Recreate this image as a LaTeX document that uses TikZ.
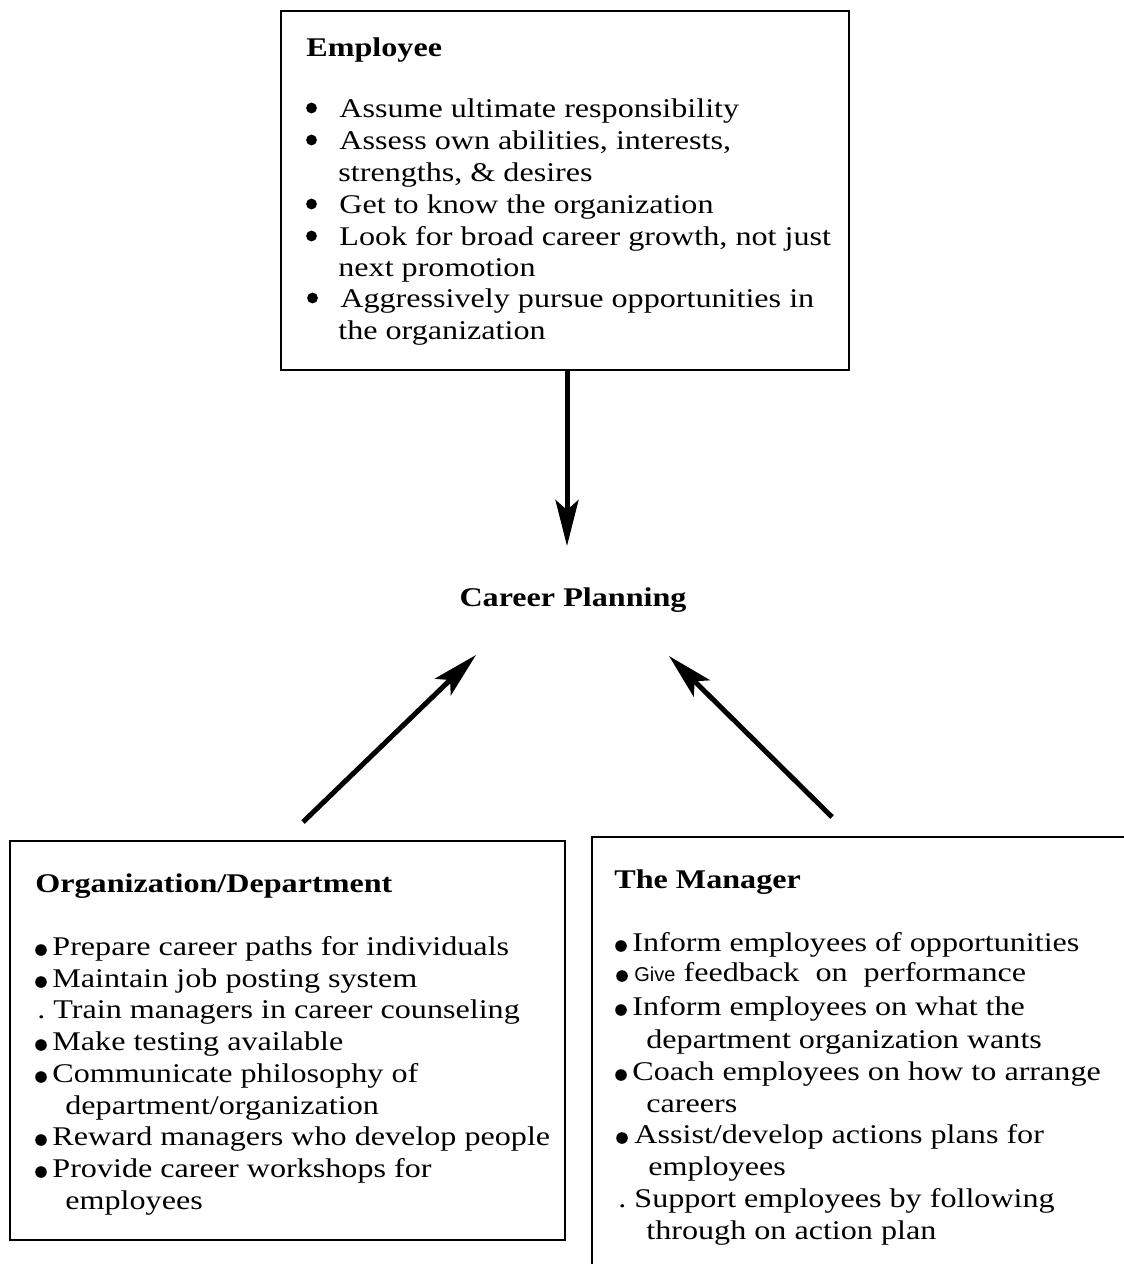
\documentclass[tikz,border=0pt]{standalone}
\usepackage{fontspec}
\setmainfont{Liberation Serif}[FakeStretch=1.19]
\newfontfamily\givefont{Liberation Sans}
\usetikzlibrary{arrows.meta}
\begin{document}
\begin{tikzpicture}[x=0.5pt,y=-0.5pt,
  txt/.style={anchor=base west,inner sep=0pt,font=\fontsize{13.5pt}{15pt}\selectfont},
  head/.style={txt,font=\fontsize{13.5pt}{15pt}\selectfont\bfseries},
  boxf/.style={draw,line width=1.1pt,inner sep=0pt},
  arr/.style={line width=2.5pt,-{Stealth[length=23pt,width=11.5pt,inset=5pt]}}]
\useasboundingbox (0,0) rectangle (1124,1264);
\clip (0,0) rectangle (1124,1264);
% boxes
\node[boxf,minimum width=284pt,minimum height=179.5pt] (emp) at (565,190.5) {};
\node[boxf,minimum width=277.5pt,minimum height=199.5pt] (org) at (287.5,1040.5) {};
\node[boxf,line width=1.4pt,minimum width=280pt,minimum height=240pt] (mgr) at (872,1077) {};
% employee text
\node[head] (empH) at (306,56) {Employee};
\node[txt] (e1) at (339,117) {Assume ultimate responsibility};
\node[txt] (e2) at (339,149) {Assess own abilities, interests,};
\node[txt] (e3) at (338,181) {strengths, \& desires};
\node[txt] (e4) at (339,213) {Get to know the organization};
\node[txt] (e5) at (339,245) {Look for broad career growth, not just};
\node[txt] (e6) at (338,276) {next promotion};
\node[txt] (e7) at (340,307) {Aggressively pursue opportunities in};
\node[txt] (e8) at (338,339) {the organization};
% center
\node[head,anchor=center] (cp) at (573,600) {Career Planning};
% org text
\node[head] (orgH) at (35,892) {Organization/Department};
\node[txt] (o1) at (52,955) {Prepare career paths for individuals};
\node[txt] (o2) at (52,987) {Maintain job posting system};
\node[txt] (o3) at (37,1018) {.\ Train managers in career counseling};
\node[txt] (o4) at (52,1050) {Make testing available};
\node[txt] (o5) at (52,1082) {Communicate philosophy of};
\node[txt] (o6) at (65,1114) {department/organization};
\node[txt] (o7) at (52,1145) {Reward managers who develop people};
\node[txt] (o8) at (52,1177) {Provide career workshops for};
\node[txt] (o9) at (65,1209) {employees};
% manager text
\node[head] (mgrH) at (614,888) {The Manager};
\node[txt] (m1) at (632,951) {Inform employees of opportunities};
\node[txt] (m2) at (634,981) {{\givefont\fontsize{10pt}{12pt}\selectfont Give} feedback\ \ on\ \ performance};
\node[txt] (m3) at (632,1015) {Inform employees on what the};
\node[txt] (m4) at (646,1048) {department organization wants};
\node[txt] (m5) at (632,1080) {Coach employees on how to arrange};
\node[txt] (m6) at (646,1112) {careers};
\node[txt] (m7) at (634,1143) {Assist/develop actions plans for};
\node[txt] (m8) at (648,1175) {employees};
\node[txt] (m9) at (618,1207) {.\ Support employees by following};
\node[txt] (m10) at (646,1239) {through on action plan};
% bullets
\foreach \n in {e1,e2,e4,e5,e7}
  \fill ([shift={(-27.5,-9)}]\n.base west) circle (2.7pt);
\foreach \n in {o1,o2,o4,o5,o7,o8,m1,m3,m5}
  \fill ([shift={(-11,-5)}]\n.base west) circle (2.9pt);
\foreach \n in {m2,m7}
  \fill ([shift={(-12,-5)}]\n.base west) circle (2.9pt);
% arrows
\coordinate (tipT) at (567,546);
\coordinate (tipL) at (476,655);
\coordinate (tipR) at (669,656);
\coordinate (tailL) at (303,822);
\coordinate (tailR) at (832,817);
\draw[arr] (emp.south -| tipT) -- (tipT);
\draw[arr] (tailL) -- (tipL);
\draw[arr] (tailR) -- (tipR);
\end{tikzpicture}
\end{document}
